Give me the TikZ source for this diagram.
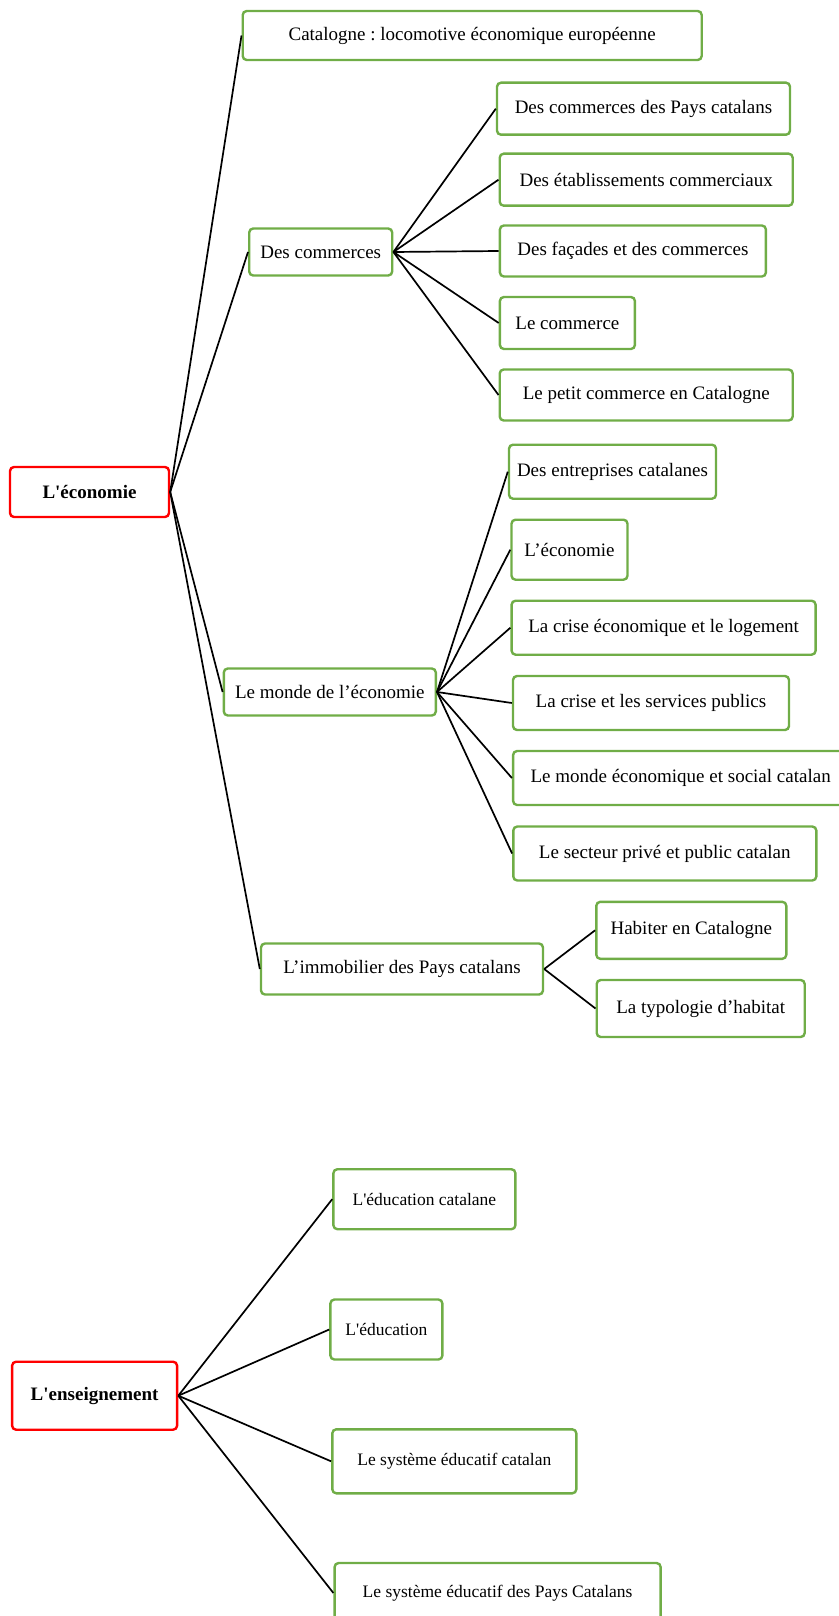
\documentclass[tikz,border=0pt]{standalone}
\usepackage{fontspec}
\setmainfont{Liberation Serif}
\definecolor{leafgreen}{HTML}{70AD47}
\newcommand{\sq}{\textquotesingle}
\frenchspacing

\begin{document}
\begin{tikzpicture}[x=1pt, y=-1pt,
    root/.style={draw=red, line width=2.4pt, rounded corners=4pt, align=center, font=\fontsize{19}{22}\selectfont\bfseries},
    leaf/.style={draw=leafgreen, line width=2.4pt, rounded corners=4pt, align=center, font=\fontsize{19}{22}\selectfont},
    small/.style={font=\fontsize{17.5}{20}\selectfont},
    lnk/.style={line width=1.7pt}
]
\useasboundingbox (0,0) rectangle (838,1616);

% economie
\node[root, minimum width=159, minimum height=50] (eco) at (89.5,492) {L\sq économie};
\node[leaf, minimum width=459, minimum height=49] (cat) at (472.2,35.5) {Catalogne : locomotive économique européenne};
\node[leaf, minimum width=143, minimum height=47] (com) at (320.7,252) {Des commerces};
\node[leaf, minimum width=212, minimum height=47] (mon) at (329.8,692) {Le monde de l’économie};
\node[leaf, minimum width=282, minimum height=51] (imm) at (402,969) {L’immobilier des Pays catalans};

% commerces
\node[leaf, minimum width=293, minimum height=52] (c1) at (643.5,108.7) {Des commerces des Pays catalans};
\node[leaf, minimum width=293, minimum height=52] (c2) at (646.2,179.7) {Des établissements commerciaux};
\node[leaf, minimum width=266, minimum height=51] (c3) at (632.9,251) {Des façades et des commerces};
\node[leaf, minimum width=135, minimum height=52] (c4) at (567.4,323) {Le commerce};
\node[leaf, minimum width=293, minimum height=51] (c5) at (646.2,395) {Le petit commerce en Catalogne};

% monde
\node[leaf, minimum width=207, minimum height=54] (m1) at (612.5,471.7) {Des entreprises catalanes};
\node[leaf, minimum width=116, minimum height=60] (m2) at (569.5,549.7) {L’économie};
\node[leaf, minimum width=304, minimum height=54] (m3) at (663.6,627.7) {La crise économique et le logement};
\node[leaf, minimum width=276, minimum height=54] (m4) at (651,703) {La crise et les services publics};
\node[leaf, minimum width=335, minimum height=54] (m5) at (680.6,778) {Le monde économique et social catalan};
\node[leaf, minimum width=303, minimum height=54] (m6) at (664.8,853.5) {Le secteur privé et public catalan};

% immobilier
\node[leaf, minimum width=190, minimum height=57] (i1) at (691.3,930.3) {Habiter en Catalogne};
\node[leaf, minimum width=208, minimum height=57] (i2) at (700.7,1008.5) {La typologie d’habitat};

\draw[lnk] (eco.east) -- (cat.west);
\draw[lnk] (eco.east) -- (com.west);
\draw[lnk] (eco.east) -- (mon.west);
\draw[lnk] (eco.east) -- (imm.west);
\foreach \c in {c1,c2,c3,c4,c5}
  \draw[lnk] (com.east) -- (\c.west);
\foreach \m in {m1,m2,m3,m4,m5,m6}
  \draw[lnk] (mon.east) -- (\m.west);
\draw[lnk] (imm.east) -- (i1.west);
\draw[lnk] (imm.east) -- (i2.west);

% enseignement
\node[root, minimum width=165, minimum height=68] (ens) at (94.6,1395.7) {L\sq enseignement};
\node[leaf, small, minimum width=182, minimum height=60] (e1) at (424.4,1199.2) {L\sq éducation catalane};
\node[leaf, small, minimum width=112, minimum height=60] (e2) at (386.4,1329.5) {L\sq éducation};
\node[leaf, small, minimum width=244, minimum height=64] (e3) at (454.3,1461.3) {Le système éducatif catalan};
\node[leaf, small, minimum width=326, minimum height=60] (e4) at (497.6,1593) {Le système éducatif des Pays Catalans};

\foreach \e in {e1,e2,e3,e4}
  \draw[lnk] (ens.east) -- (\e.west);
\end{tikzpicture}
\end{document}
